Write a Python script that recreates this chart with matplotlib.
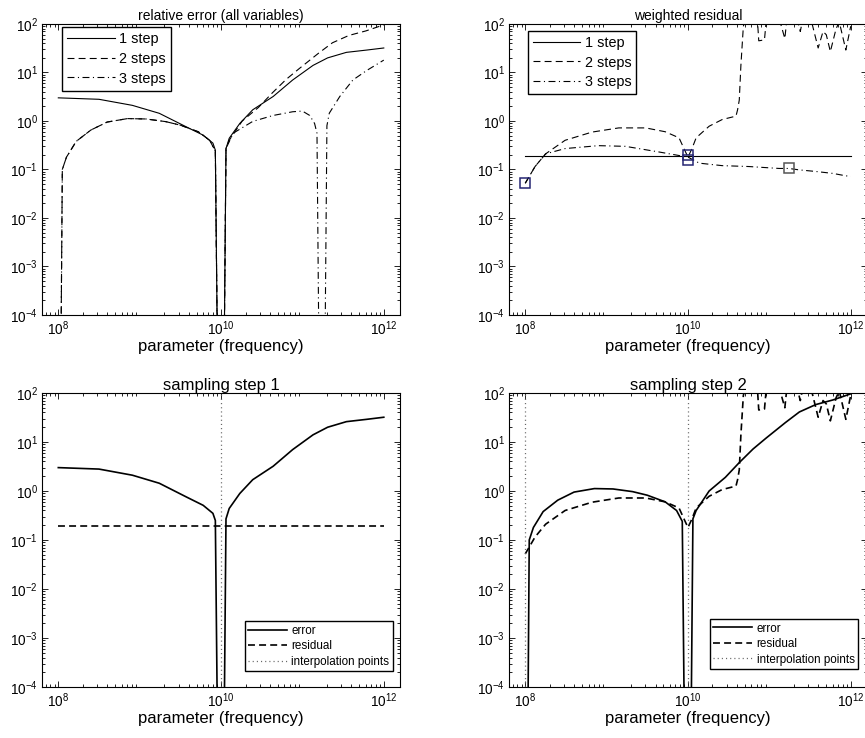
import matplotlib
matplotlib.use('Agg')
import matplotlib.pyplot as plt
from matplotlib.ticker import LogLocator, NullFormatter

# error curves (relative error, all variables)
err1_f = [1.00e8, 3.16e8, 8.13e8, 1.74e9, 3.72e9, 6.03e9, 7.94e9, 8.51e9, 1.00e10, 1.15e10,
          1.26e10, 1.70e10, 2.45e10, 4.37e10, 7.59e10, 1.35e11, 2.04e11, 3.47e11, 6.17e11, 1.00e12]
err1 = [3.0, 2.8, 2.1, 1.44, 0.76, 0.51, 0.35, 0.25, 1e-12, 0.27,
        0.44, 0.89, 1.7, 3.2, 7.0, 14, 20, 26, 29, 32]

err2_f = [1.00e8, 1.12e8, 1.26e8, 1.66e8, 2.51e8, 3.98e8, 7.08e8, 1.20e9, 2.09e9, 3.16e9,
          5.25e9, 7.24e9, 8.51e9, 1.00e10, 1.15e10, 1.26e10, 1.82e10, 2.88e10, 4.27e10, 6.31e10,
          9.12e10, 1.58e11, 2.34e11, 3.72e11, 6.03e11, 1.00e12]
err2 = [1e-12, 0.1, 0.18, 0.38, 0.65, 0.95, 1.12, 1.10, 0.97, 0.82,
        0.60, 0.40, 0.24, 1e-12, 0.27, 0.40, 1.0, 1.9, 3.8, 7.2,
        12, 25, 41, 58, 72, 96]

err3_f = [1.00e8, 1.12e8, 1.26e8, 1.66e8, 2.51e8, 3.98e8, 7.08e8, 1.20e9, 2.09e9, 3.16e9,
          5.25e9, 7.24e9, 8.51e9, 1.00e10, 1.15e10, 1.41e10, 2.45e10, 4.37e10, 7.59e10, 1.00e11,
          1.23e11, 1.41e11, 1.51e11, 1.74e11, 2.00e11, 2.14e11, 2.88e11, 4.17e11, 6.17e11, 1.00e12]
err3 = [1e-12, 0.1, 0.18, 0.38, 0.65, 0.95, 1.12, 1.10, 0.97, 0.82,
        0.60, 0.40, 0.24, 1e-12, 0.27, 0.56, 0.98, 1.3, 1.55, 1.6,
        1.3, 0.89, 0.56, 1e-12, 0.8, 1.45, 3.2, 7.0, 11, 18]

# weighted residuals
res1_f = [1.00e8, 1.00e12]
res1 = [0.19, 0.19]

res2_f = [1.00e8, 1.32e8, 1.78e8, 3.09e8, 6.61e8, 1.41e9, 3.02e9, 5.25e9, 7.76e9, 9.33e9,
          1.00e10, 1.12e10, 1.26e10, 1.82e10, 2.63e10, 3.89e10, 4.07e10, 4.27e10, 4.47e10, 4.79e10,
          5.13e10, 7.08e10, 7.41e10, 8.71e10, 9.12e10, 1.12e11, 1.32e11, 1.55e11, 1.66e11, 2.14e11,
          2.40e11, 2.63e11, 3.16e11, 3.98e11, 4.57e11, 5.01e11, 5.62e11, 6.61e11, 7.24e11, 8.71e11,
          1.00e12]
res2 = [0.052, 0.115, 0.21, 0.40, 0.59, 0.72, 0.72, 0.60, 0.45, 0.23,
        0.18, 0.27, 0.45, 0.78, 1.07, 1.26, 1.7, 2.7, 14, 88,
        150, 150, 45, 47, 110, 150, 130, 50, 150, 150,
        70, 150, 150, 32, 70, 60, 27, 80, 110, 29,
        90]

res3_f = [1.00e8, 1.32e8, 1.78e8, 3.09e8, 7.94e8, 1.70e9, 4.37e9, 1.00e10, 1.38e10, 2.63e10,
          5.62e10, 1.32e11, 1.74e11, 2.34e11, 3.72e11, 6.03e11, 8.71e11, 1.00e12]
res3 = [0.052, 0.115, 0.21, 0.27, 0.31, 0.30, 0.23, 0.18, 0.135, 0.12,
        0.115, 0.105, 0.105, 0.098, 0.091, 0.083, 0.074, 0.072]

# chosen points (squares) and interpolation points
sq_f = [1.00e8, 1.00e10, 1.00e10, 1.74e11]
sq_v = [0.052, 0.20, 0.16, 0.105]
sq_col = ['#262673', '#262673', '#262673', '#555555']
interp1 = [1.00e10]
interp2 = [1.00e8, 1.00e10]

plt.rcParams['font.family'] = ['Liberation Sans', 'DejaVu Sans']
plt.rcParams['mathtext.fontset'] = 'custom'
plt.rcParams['mathtext.rm'] = 'Liberation Sans'
plt.rcParams['mathtext.it'] = 'Liberation Sans:italic'
plt.rcParams['lines.scale_dashes'] = False
plt.rcParams['axes.linewidth'] = 0.8

dash = (0, (5, 3))
dashdot = (0, (5, 2.5, 0.8, 2.5))
dot = (0, (0.8, 2.2))

fig = plt.figure(figsize=(8.65, 7.38), dpi=100)
ax1 = fig.add_axes([0.0486, 0.5732, 0.4139, 0.3943])
ax2 = fig.add_axes([0.5884, 0.5732, 0.4139, 0.3943])
ax3 = fig.add_axes([0.0486, 0.0691, 0.4139, 0.3984])
ax4 = fig.add_axes([0.5884, 0.0691, 0.4139, 0.3984])


def setup(ax):
	ax.set_xscale('log')
	ax.set_yscale('log')
	ax.set_xlim(10 ** 7.8, 10 ** 12.2)
	ax.set_ylim(1e-4, 1e2)
	ax.set_xticks([1e8, 1e10, 1e12])
	ax.set_yticks([1e-4, 1e-3, 1e-2, 1e-1, 1e0, 1e1, 1e2])
	ax.xaxis.set_minor_locator(LogLocator(base=10, subs=range(2, 10), numticks=100))
	ax.yaxis.set_minor_locator(LogLocator(base=10, subs=range(2, 10), numticks=100))
	ax.xaxis.set_minor_formatter(NullFormatter())
	ax.yaxis.set_minor_formatter(NullFormatter())
	ax.tick_params(which='both', direction='in', top=True, right=True, labelsize=9.8, width=0.6)
	ax.tick_params(which='major', length=4, pad=3)
	ax.tick_params(which='minor', length=2)
	ax.set_xlabel('parameter (frequency)', fontsize=12, labelpad=1)


# relative error
setup(ax1)
ax1.plot(err1_f, err1, color='k', lw=0.8, label='1 step')
ax1.plot(err2_f, err2, color='k', lw=0.8, linestyle=dash, label='2 steps')
ax1.plot(err3_f, err3, color='k', lw=0.8, linestyle=dashdot, label='3 steps')
ax1.set_title('relative error (all variables)', fontsize=10, pad=3)
leg = ax1.legend(loc='upper left', bbox_to_anchor=(0.056, 0.99), borderaxespad=0, fontsize=10.4,
                 fancybox=False, framealpha=1, edgecolor='k', handlelength=3.3,
                 handletextpad=0.3, labelspacing=0.4, borderpad=0.35)
leg.get_frame().set_linewidth(1.0)

# weighted residual
setup(ax2)
ax2.plot(res1_f, res1, color='k', lw=0.8, label='1 step')
ax2.plot(res2_f, res2, color='k', lw=0.8, linestyle=dash, label='2 steps')
ax2.plot(res3_f, res3, color='k', lw=0.8, linestyle=dashdot, label='3 steps')
for f, v, c in zip(sq_f, sq_v, sq_col):
	ax2.plot(f, v, 's', ms=6.5, mfc='none', mec=c, mew=1.1)
ax2.set_title('weighted residual', fontsize=10, pad=3)
leg = ax2.legend(loc='upper left', bbox_to_anchor=(0.052, 0.977), borderaxespad=0, fontsize=10.4,
                 fancybox=False, framealpha=1, edgecolor='k', handlelength=3.3,
                 handletextpad=0.3, labelspacing=0.4, borderpad=0.35)
leg.get_frame().set_linewidth(1.0)

# sampling step 1
setup(ax3)
ax3.plot(err1_f, err1, color='k', lw=1.2, label='error')
ax3.plot(res1_f, res1, color='k', lw=1.2, linestyle=dash, label='residual')
for i, f in enumerate(interp1):
	ax3.axvline(f, color='#666666', lw=0.9, linestyle=dot, label='interpolation points' if i == 0 else None)
ax3.set_title('sampling step 1', fontsize=12, pad=2)
leg = ax3.legend(loc='lower right', bbox_to_anchor=(0.98, 0.054), borderaxespad=0, fontsize=8.4,
                 fancybox=False, framealpha=1, edgecolor='k', handlelength=3.3,
                 handletextpad=0.4, labelspacing=0.3, borderpad=0.3)
leg.get_frame().set_linewidth(1.0)

# sampling step 2
setup(ax4)
ax4.plot(err2_f, err2, color='k', lw=1.2, label='error')
ax4.plot(res2_f, res2, color='k', lw=1.2, linestyle=dash, label='residual')
for i, f in enumerate(interp2):
	ax4.axvline(f, color='#666666', lw=0.9, linestyle=dot, label='interpolation points' if i == 0 else None)
ax4.set_title('sampling step 2', fontsize=12, pad=2)
leg = ax4.legend(loc='lower right', bbox_to_anchor=(0.975, 0.061), borderaxespad=0, fontsize=8.4,
                 fancybox=False, framealpha=1, edgecolor='k', handlelength=3.3,
                 handletextpad=0.4, labelspacing=0.3, borderpad=0.3)
leg.get_frame().set_linewidth(1.0)

fig.savefig('out.png', dpi=100)
